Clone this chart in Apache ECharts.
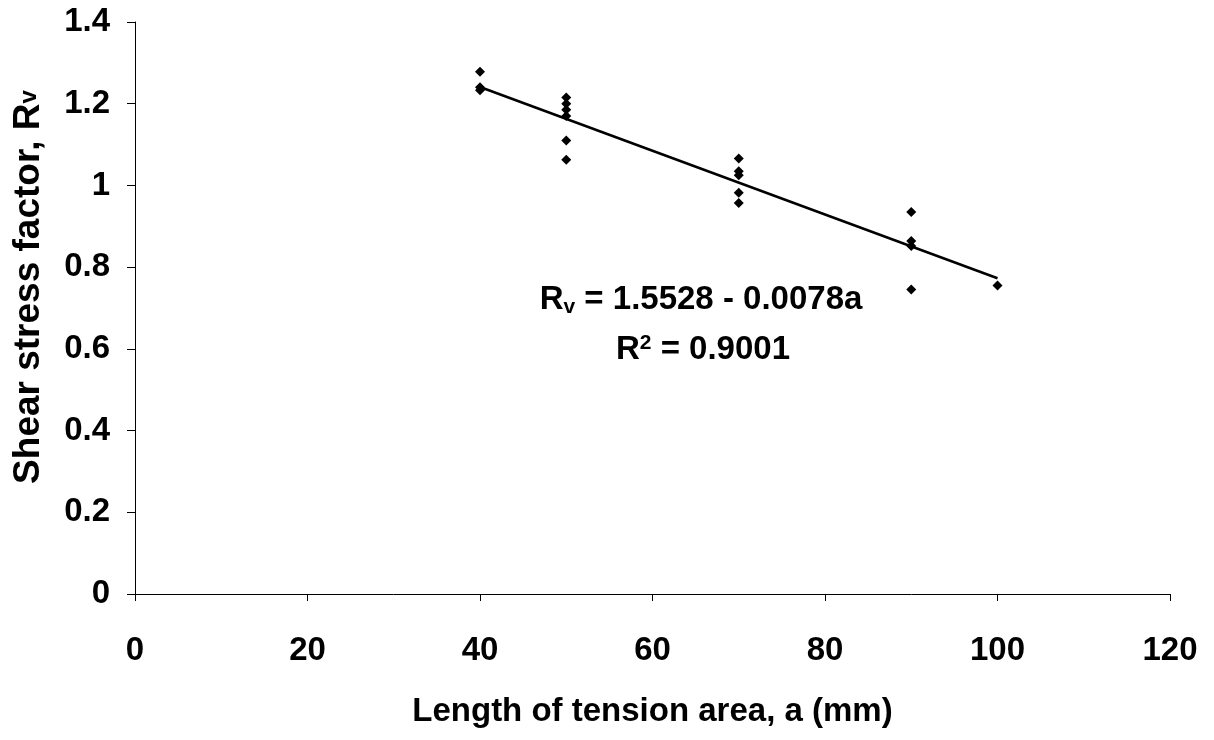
<!DOCTYPE html>
<html><head><meta charset="utf-8">
<script src="https://cdn.jsdelivr.net/npm/echarts@6/dist/echarts.min.js"></script>
<style>html,body{margin:0;padding:0;background:#fff}#c{width:1214px;height:740px}</style>
</head><body><div id="c"></div>
<script>
const xValues = [40,40,40, 50,50,50,50,50,50, 70,70,70,70,70, 90,90,90,90, 100];
const yValues = [1.278,1.240,1.233, 1.215,1.200,1.185,1.170,1.110,1.063, 1.066,1.035,1.025,0.982,0.957, 0.935,0.864,0.852,0.745, 0.755];
const trendX = [40, 100];
const intercept = 1.5528, slope = -0.0078;
const xTicks = [0,20,40,60,80,100,120];
const yTicks = [0,0.2,0.4,0.6,0.8,1,1.2,1.4];

const pts = xValues.map((x,i)=>[x,yValues[i]]);
const trend = trendX.map(x=>[x, intercept + slope*x]);
const font = '"Liberation Sans", Arial, sans-serif';
const FS = 33;
const chart = echarts.init(document.getElementById('c'));
chart.setOption({
  animation:false,
  grid:{left:135,right:44,top:22,bottom:146},
  xAxis:{type:'value',min:0,max:120,interval:20,
    name:'Length of tension area, a (mm)',nameLocation:'middle',nameGap:101,
    nameTextStyle:{fontFamily:font,fontWeight:'bold',fontSize:FS,color:'#000'},
    axisLine:{lineStyle:{color:'#000',width:1}},
    axisTick:{show:true,length:7,lineStyle:{color:'#000'}},
    axisLabel:{fontFamily:font,fontWeight:'bold',fontSize:FS,color:'#000',margin:40},
    splitLine:{show:false}},
  yAxis:{type:'value',min:0,max:1.4,interval:0.2,
    axisLine:{show:true,lineStyle:{color:'#000',width:1}},
    axisTick:{show:true,length:8,lineStyle:{color:'#000'}},
    axisLabel:{fontFamily:font,fontWeight:'bold',fontSize:FS,color:'#000',margin:25},
    splitLine:{show:false}},
  series:[
    {type:'scatter',data:pts,symbol:'diamond',symbolSize:10,itemStyle:{color:'#000',opacity:1},z:3},
    {type:'line',data:trend,symbol:'none',lineStyle:{color:'#000',width:2.5},z:2}
  ],
  graphic:[
    {type:'text',x:29,y:287,rotation:Math.PI/2,style:{text:'{a|Shear stress factor, R}{s|v}',align:'center',verticalAlign:'middle',
      rich:{a:{fontFamily:font,fontWeight:'bold',fontSize:37,fill:'#000'},
            s:{fontFamily:font,fontWeight:'bold',fontSize:24,fill:'#000',verticalAlign:'bottom',padding:[0,0,6,0]}}}},
    {type:'text',x:701,y:300,style:{text:'{a|R}{s|v}{a| = 1.5528 - 0.0078a}',align:'center',verticalAlign:'middle',
      rich:{a:{fontFamily:font,fontWeight:'bold',fontSize:FS,fill:'#000'},
            s:{fontFamily:font,fontWeight:'bold',fontSize:21,fill:'#000',verticalAlign:'bottom',padding:[14,0,0,0]}}}},
    {type:'text',x:703,y:350,style:{text:'{a|R}{p|2}{a| = 0.9001}',align:'center',verticalAlign:'middle',
      rich:{a:{fontFamily:font,fontWeight:'bold',fontSize:FS,fill:'#000'},
            p:{fontFamily:font,fontWeight:'bold',fontSize:21,fill:'#000',verticalAlign:'top',padding:[0,0,14,0]}}}}
  ]
});
</script></body></html>
